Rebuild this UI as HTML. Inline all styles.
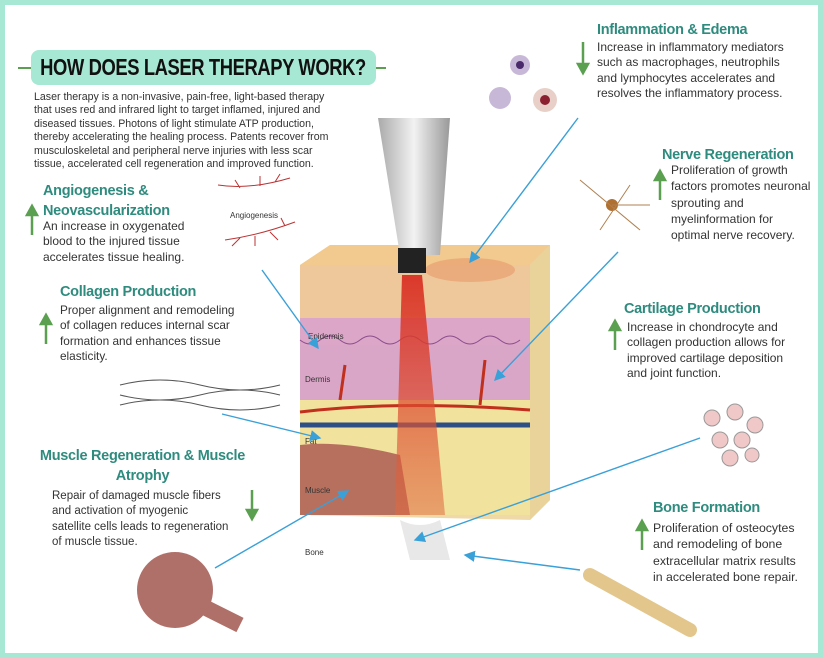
<!DOCTYPE html>
<html><head><meta charset="utf-8">
<style>
*{margin:0;padding:0;box-sizing:border-box}
body{width:823px;height:658px;overflow:hidden;background:#fff;font-family:"Liberation Sans",sans-serif}
#f{position:absolute;left:0;top:0;width:823px;height:658px;border:5px solid #a6e8d3;background:#fff}
.h{position:absolute;color:#2e8b7e;font-weight:bold;font-size:14.5px;letter-spacing:-0.3px;line-height:20px;white-space:nowrap}
.t{position:absolute;color:#333;font-size:11.5px;line-height:15.3px;white-space:nowrap}
svg{position:absolute;left:0;top:0}
</style></head><body>
<div id="f"></div>
<svg width="823" height="658">
<defs>
<marker id="a" markerWidth="8" markerHeight="8" refX="7" refY="4" orient="auto"><path d="M0,0 L8,4 L0,8z" fill="#3aa0d8"/></marker>
<linearGradient id="beam" x1="0" x2="0" y1="0" y2="1"><stop offset="0" stop-color="#d8281e"/><stop offset="1" stop-color="#e06a40" stop-opacity=".6"/></linearGradient>
<linearGradient id="hp" x1="0" x2="1"><stop offset="0" stop-color="#aaa"/><stop offset=".5" stop-color="#f2f2f2"/><stop offset="1" stop-color="#999"/></linearGradient>
</defs>
<line x1="18" y1="68" x2="32" y2="68" stroke="#5aa050" stroke-width="2"/>
<line x1="375" y1="68" x2="386" y2="68" stroke="#5aa050" stroke-width="2"/>
<rect x="31" y="50" width="345" height="35" rx="8" fill="#a6e8d3"/>
<path d="M300,265 L330,245 L550,245 L550,500 L530,520 L300,515z" fill="#f0d9a8"/>
<path d="M300,265 L530,265 L550,245 L330,245z" fill="#f2c98e"/>
<rect x="300" y="265" width="230" height="60" fill="#eec79a"/>
<rect x="300" y="318" width="230" height="30" fill="#dca6c8"/>
<rect x="300" y="345" width="230" height="55" fill="#d9a6c8"/>
<rect x="300" y="400" width="230" height="115" fill="#f1e29d"/>
<path d="M530,265 L550,245 L550,500 L530,520z" fill="#e9d39a"/>
<ellipse cx="470" cy="270" rx="45" ry="12" fill="#e8a070" opacity=".7"/>
<path d="M300,445 Q340,440 400,455 L410,515 L300,515z" fill="#b7705e"/>
<path d="M300,425 L530,425" stroke="#2d4f86" stroke-width="5"/>
<path d="M300,412 Q400,400 530,410" stroke="#c0301c" stroke-width="3" fill="none"/>
<path d="M340,400 L345,365 M480,405 L485,360" stroke="#c0301c" stroke-width="3" fill="none"/>
<path d="M300,340 q10,8 20,0 q10,-8 20,0 q10,8 20,0 q10,-8 20,0 q10,8 20,0 q10,-8 20,0 q10,8 20,0 q10,-8 20,0 q10,8 20,0 q10,-8 20,0 q10,8 20,0" stroke="#8a4d8c" fill="none"/>
<path d="M400,520 Q420,530 440,520 L450,560 L410,560z" fill="#e8e8e8"/>
<path d="M402,275 L422,275 L445,515 L395,515z" fill="url(#beam)" opacity=".9"/>
<path d="M378,118 L450,118 L440,255 L400,255z" fill="url(#hp)"/>
<rect x="398" y="248" width="28" height="25" fill="#222"/>
<text x="308" y="339" font-size="8" fill="#333" font-family="Liberation Sans">Epidermis</text>
<text x="305" y="382" font-size="8" fill="#333" font-family="Liberation Sans">Dermis</text>
<text x="305" y="444" font-size="8" fill="#333" font-family="Liberation Sans">Fat</text>
<text x="305" y="493" font-size="8" fill="#333" font-family="Liberation Sans">Muscle</text>
<text x="305" y="555" font-size="8" fill="#333" font-family="Liberation Sans">Bone</text>
<text x="230" y="218" font-size="8" fill="#333" font-family="Liberation Sans">Angiogenesis</text>
<path d="M218,185 Q250,190 290,178 M240,188 l-5,-8 M260,186 l0,-10 M275,182 l5,-8" stroke="#b33" fill="none"/>
<path d="M225,240 Q260,235 295,222 M240,238 l-8,8 M255,236 l0,10 M270,232 l8,8 M285,226 l-4,-8" stroke="#b33" fill="none"/>
<path d="M120,385 Q160,375 200,385 T280,385 M120,395 Q160,405 200,395 T280,395 M120,405 Q160,395 200,405 T280,405" stroke="#555" fill="none"/>
<circle cx="520" cy="65" r="10" fill="#c8b8d8"/><circle cx="520" cy="65" r="4" fill="#4a2a6a"/>
<circle cx="500" cy="98" r="11" fill="#c8b8d8"/><circle cx="545" cy="100" r="12" fill="#e8d0c8"/><circle cx="545" cy="100" r="5" fill="#8a2030"/>
<circle cx="612" cy="205" r="6" fill="#b07030"/>
<path d="M580,180 L640,230 M600,230 L630,185 M612,205 L650,205" stroke="#b08050" fill="none"/>
<g fill="#f0c8c8" stroke="#999"><circle cx="712" cy="418" r="8"/><circle cx="735" cy="412" r="8"/><circle cx="755" cy="425" r="8"/><circle cx="720" cy="440" r="8"/><circle cx="742" cy="440" r="8"/><circle cx="730" cy="458" r="8"/><circle cx="752" cy="455" r="7"/></g>
<path d="M590,575 L690,630" stroke="#e3c68c" stroke-width="14" stroke-linecap="round"/>
<circle cx="175" cy="590" r="38" fill="#b0706a"/>
<path d="M190,600 L240,625" stroke="#b0706a" stroke-width="16"/>
<g stroke="#3aa0d8" stroke-width="1.4" fill="none" marker-end="url(#a)">
<line x1="578" y1="118" x2="470" y2="262"/>
<line x1="618" y1="252" x2="495" y2="380"/>
<line x1="700" y1="438" x2="415" y2="540"/>
<line x1="580" y1="570" x2="465" y2="555"/>
<line x1="262" y1="270" x2="318" y2="348"/>
<line x1="222" y1="414" x2="320" y2="438"/>
<line x1="215" y1="568" x2="348" y2="491"/>
</g>
<g stroke="#5aa050" stroke-width="2.5" fill="#5aa050">
<line x1="583" y1="42" x2="583" y2="66"/><path d="M578,64 L588,64 L583,73z"/>
<line x1="660" y1="178" x2="660" y2="200"/><path d="M655,180 L665,180 L660,171z"/>
<line x1="615" y1="328" x2="615" y2="350"/><path d="M610,330 L620,330 L615,321z"/>
<line x1="642" y1="528" x2="642" y2="550"/><path d="M637,530 L647,530 L642,521z"/>
<line x1="32" y1="213" x2="32" y2="235"/><path d="M27,215 L37,215 L32,206z"/>
<line x1="46" y1="322" x2="46" y2="344"/><path d="M41,324 L51,324 L46,315z"/>
<line x1="252" y1="490" x2="252" y2="512"/><path d="M247,510 L257,510 L252,519z"/>
</g>
</svg>
<div style="position:absolute;left:-47px;top:50px;width:500px;height:35px;line-height:35px;text-align:center;white-space:nowrap;font-weight:bold;font-size:23px;letter-spacing:-0.5px;color:#111;transform:scaleX(0.80);transform-origin:center">HOW DOES LASER THERAPY WORK?</div>
<div class="t" style="left:34px;top:91px;font-size:10.6px;line-height:13.4px">Laser therapy is a non-invasive, pain-free, light-based therapy<br>that uses red and infrared light to target inflamed, injured and<br>diseased tissues. Photons of light stimulate ATP production,<br>thereby accelerating the healing process. Patents recover from<br>musculoskeletal and peripheral nerve injuries with less scar<br>tissue, accelerated cell regeneration and improved function.</div>
<div class="h" style="left:597px;top:20px">Inflammation &amp; Edema</div>
<div class="t" style="left:597px;top:40px;font-size:12px">Increase in inflammatory mediators<br>such as macrophages, neutrophils<br>and lymphocytes accelerates and<br>resolves the inflammatory process.</div>
<div class="h" style="left:662px;top:145px">Nerve Regeneration</div>
<div class="t" style="left:671px;top:162px;font-size:12px;line-height:16.3px">Proliferation of growth<br>factors promotes neuronal<br>sprouting and<br>myelinformation for<br>optimal nerve recovery.</div>
<div class="h" style="left:624px;top:299px">Cartilage Production</div>
<div class="t" style="left:627px;top:320px;font-size:12px">Increase in chondrocyte and<br>collagen production allows for<br>improved cartilage deposition<br>and joint function.</div>
<div class="h" style="left:653px;top:498px">Bone Formation</div>
<div class="t" style="left:653px;top:520px;font-size:12.3px;line-height:16.4px">Proliferation of osteocytes<br>and remodeling of bone<br>extracellular matrix results<br>in accelerated bone repair.</div>
<div class="h" style="left:43px;top:181px">Angiogenesis &amp;<br>Neovascularization</div>
<div class="t" style="left:43px;top:219px;font-size:12px">An increase in oxygenated<br>blood to the injured tissue<br>accelerates tissue healing.</div>
<div class="h" style="left:60px;top:282px">Collagen Production</div>
<div class="t" style="left:60px;top:303px;font-size:11.8px">Proper alignment and remodeling<br>of collagen reduces internal scar<br>formation and enhances tissue<br>elasticity.</div>
<div class="h" style="left:30px;top:446px;width:225px;text-align:center;white-space:normal">Muscle Regeneration &amp; Muscle Atrophy</div>
<div class="t" style="left:52px;top:489px;font-size:11.5px">Repair of damaged muscle fibers<br>and activation of myogenic<br>satellite cells leads to regeneration<br>of muscle tissue.</div>
</body></html>
